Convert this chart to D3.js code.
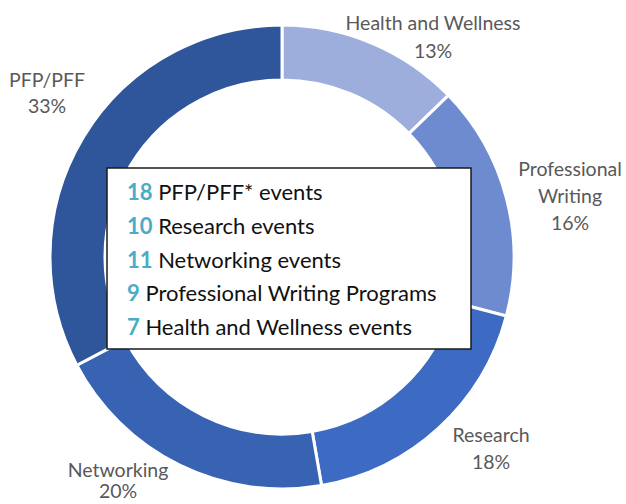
<!DOCTYPE html>
<html>
<head>
<meta charset="utf-8">
<script src="https://cdn.jsdelivr.net/npm/d3@7"></script>
<style>
  html, body { margin: 0; padding: 0; background: #ffffff; }
  svg { display: block; }
</style>
</head>
<body>
<svg id="chart" width="626" height="504"></svg>
<script>
// Data (clockwise from 12 o'clock)
const categories = ["Health and Wellness", "Professional Writing", "Research", "Networking", "PFP/PFF"];
const labelLines = [["Health and Wellness"], ["Professional", "Writing"], ["Research"], ["Networking"], ["PFP/PFF"]];
const eventCounts = [7, 9, 10, 11, 18];
const percentLabels = ["13%", "16%", "18%", "20%", "33%"];
const sliceColors = ["#9eaedc", "#6f8bd0", "#3d6bc4", "#3862b2", "#2f559a"];

// Legend box content (number + text)
const legendNumbers = ["18", "10", "11", "9", "7"];
const legendTexts = ["PFP/PFF* events", "Research events", "Networking events", "Professional Writing Programs", "Health and Wellness events"];

const svg = d3.select("#chart");
const cx = 282, cy = 257, rOuter = 232, rInner = 177;

const pie = d3.pie().sort(null).value(d => d)(eventCounts);
const arc = d3.arc().innerRadius(rInner).outerRadius(rOuter);

const g = svg.append("g").attr("transform", `translate(${cx},${cy})`);
g.selectAll("path.slice")
  .data(pie)
  .join("path")
  .attr("class", "slice")
  .attr("d", arc)
  .attr("fill", (d, i) => sliceColors[i])
  .attr("stroke", "#ffffff")
  .attr("stroke-width", 3)
  .attr("stroke-linejoin", "miter");

// Outside labels (first-line baseline anchors)
const labelAnchors = [
  { x: 433, y: 30 },
  { x: 570, y: 176 },
  { x: 491, y: 442 },
  { x: 118, y: 477 },
  { x: 47, y: 87 }
];
const lineH = [28, 27, 27, 21, 26];
const labelFont = "Lato, 'Open Sans', 'DejaVu Sans', sans-serif";
categories.forEach((c, i) => {
  const lines = labelLines[i].concat([percentLabels[i]]);
  const t = svg.append("text")
    .attr("text-anchor", "middle")
    .attr("font-family", labelFont)
    .attr("font-size", 19.5)
    .attr("fill", "#595959");
  lines.forEach((ln, j) => {
    t.append("tspan")
      .attr("x", labelAnchors[i].x)
      .attr("y", labelAnchors[i].y + j * lineH[i])
      .text(ln);
  });
});

// Legend box
const box = { x: 107, y: 168, w: 364, h: 181 };
svg.append("rect")
  .attr("x", box.x).attr("y", box.y)
  .attr("width", box.w).attr("height", box.h)
  .attr("fill", "#ffffff")
  .attr("stroke", "#1a1a1a")
  .attr("stroke-width", 1.5);

const legendY = d3.scaleLinear().domain([0, legendTexts.length - 1]).range([200, 335]);
const legendFont = "Lato, 'Open Sans', 'DejaVu Sans', sans-serif";
legendTexts.forEach((txt, i) => {
  const t = svg.append("text")
    .attr("x", 127)
    .attr("y", legendY(i))
    .attr("font-family", legendFont)
    .attr("font-size", 22)
    .attr("fill", "#111111");
  t.append("tspan")
    .attr("font-weight", "bold")
    .attr("fill", "#4aacc6")
    .text(legendNumbers[i]);
  t.append("tspan").text(" " + txt);
});
</script>
</body>
</html>
